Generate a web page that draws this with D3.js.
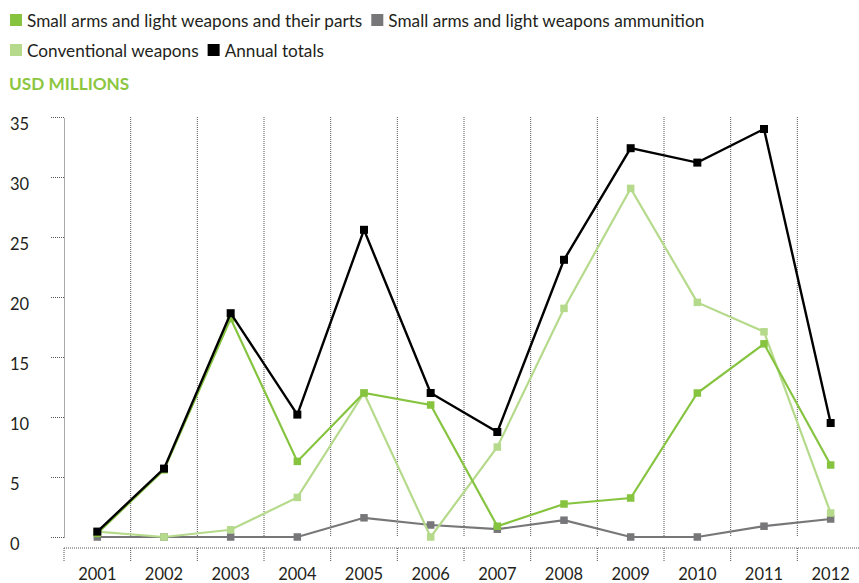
<!DOCTYPE html>
<html>
<head>
<meta charset="utf-8">
<script src="https://cdn.jsdelivr.net/npm/d3@7"></script>
<style>
  html, body { margin: 0; padding: 0; background: #fff; }
  svg { display: block; font-family: Lato, "Open Sans", sans-serif; }
</style>
</head>
<body>
<svg id="chart" width="859" height="583"></svg>
<script>
// Transfers by category, USD millions
const years = ["2001","2002","2003","2004","2005","2006","2007","2008","2009","2010","2011","2012"];
const salwParts   = [0.3, 5.6, 18.2, 6.3, 12.0, 11.0, 0.9, 2.75, 3.25, 12.0, 16.1, 6.0];
const ammunition  = [0, 0, 0, 0, 1.6, 1.0, 0.65, 1.4, 0, 0, 0.9, 1.5];
const conventional = [0.45, 0, 0.6, 3.3, 12.0, 0, 7.5, 19.05, 29.05, 19.55, 17.1, 2.0];
const annualTotals = [0.45, 5.7, 18.65, 10.2, 25.6, 12.0, 8.75, 23.1, 32.4, 31.2, 34.0, 9.5];
const yTicks = [0, 5, 10, 15, 20, 25, 30, 35];

const seriesList = [
  { name: "Small arms and light weapons ammunition", values: ammunition, color: "#77777a" },
  { name: "Conventional weapons", values: conventional, color: "#b6da8b" },
  { name: "Small arms and light weapons and their parts", values: salwParts, color: "#86c440" },
  { name: "Annual totals", values: annualTotals, color: "#000000" }
];

const legendRows = [
  [seriesList[2], seriesList[0]],
  [seriesList[1], seriesList[3]]
];

const W = 859, H = 583;
const svg = d3.select("#chart");

const x = d3.scaleBand().domain(years).range([64, 864]);
const y = d3.scaleLinear().domain([0, 35]).range([537, 117]);

const gridColor = "#555";
const dots = "1,1";

// Legend
legendRows.forEach((row, ri) => {
  let cx = 10;
  const rowY = 14 + ri * 30;
  row.forEach(s => {
    svg.append("rect").attr("x", cx).attr("y", rowY).attr("width", 12).attr("height", 12).attr("fill", s.color);
    const t = svg.append("text").attr("x", cx + 17).attr("y", rowY + 12.5)
      .attr("font-size", 17.2).attr("fill", "#231f20").text(s.name);
    cx += 17 + t.node().getComputedTextLength() + 9;
  });
});

// Unit label
svg.append("text").attr("x", 9).attr("y", 90).attr("font-size", 17.2).attr("font-weight", 700)
  .attr("fill", "#8cc63f").text("USD MILLIONS");

// Y axis
const yAxis = svg.append("g").attr("transform", "translate(64,0)")
  .call(d3.axisLeft(y).tickValues(yTicks).tickSize(14).tickSizeOuter(0));
yAxis.select(".domain").attr("stroke", gridColor).attr("stroke-dasharray", dots);
yAxis.selectAll(".tick line").attr("stroke", gridColor).attr("stroke-dasharray", dots);
yAxis.selectAll(".tick text").attr("x", 10 - 64).attr("text-anchor", "start").attr("dy", 12.5)
  .attr("font-size", 16.5).attr("fill", "#231f20").attr("font-family", "Lato, sans-serif");

// Vertical gridlines at year boundaries
svg.append("g").selectAll("line").data(years.slice(1)).join("line")
  .attr("x1", d => x(d)).attr("x2", d => x(d))
  .attr("y1", y(35)).attr("y2", y(0))
  .attr("stroke", gridColor).attr("stroke-dasharray", dots);

// X axis below the plot
const xAxisY = 548;
const xAxis = svg.append("g").attr("transform", `translate(0,${xAxisY})`)
  .call(d3.axisBottom(x).tickSize(0).tickPadding(20));
xAxis.select(".domain").remove();
xAxis.selectAll(".tick text").attr("font-size", 16.5).attr("fill", "#231f20").attr("font-family", "Lato, sans-serif")
  .attr("dy", "0.71em");
xAxis.append("line").attr("x1", x.range()[0]).attr("x2", W).attr("y1", 0).attr("y2", 0)
  .attr("stroke", gridColor).attr("stroke-dasharray", dots);
xAxis.append("g").selectAll("line").data(years).join("line")
  .attr("x1", d => x(d)).attr("x2", d => x(d)).attr("y1", 0).attr("y2", 14)
  .attr("stroke", gridColor).attr("stroke-dasharray", dots);

// Series lines and square markers
const line = d3.line().x((d, i) => x(years[i]) + x.bandwidth() / 2).y(d => y(d));
seriesList.forEach(s => {
  const g = svg.append("g");
  g.append("path").datum(s.values).attr("d", line).attr("fill", "none")
    .attr("stroke", s.color).attr("stroke-width", s.color === "#000000" ? 2.4 : 2.2)
    .attr("stroke-linejoin", "miter");
  const m = s.color === "#000000" ? 8 : 7.5;
  g.selectAll("rect").data(s.values).join("rect")
    .attr("x", (d, i) => x(years[i]) + x.bandwidth() / 2 - m / 2)
    .attr("y", d => y(d) - m / 2)
    .attr("width", m).attr("height", m).attr("fill", s.color);
});
</script>
</body>
</html>
